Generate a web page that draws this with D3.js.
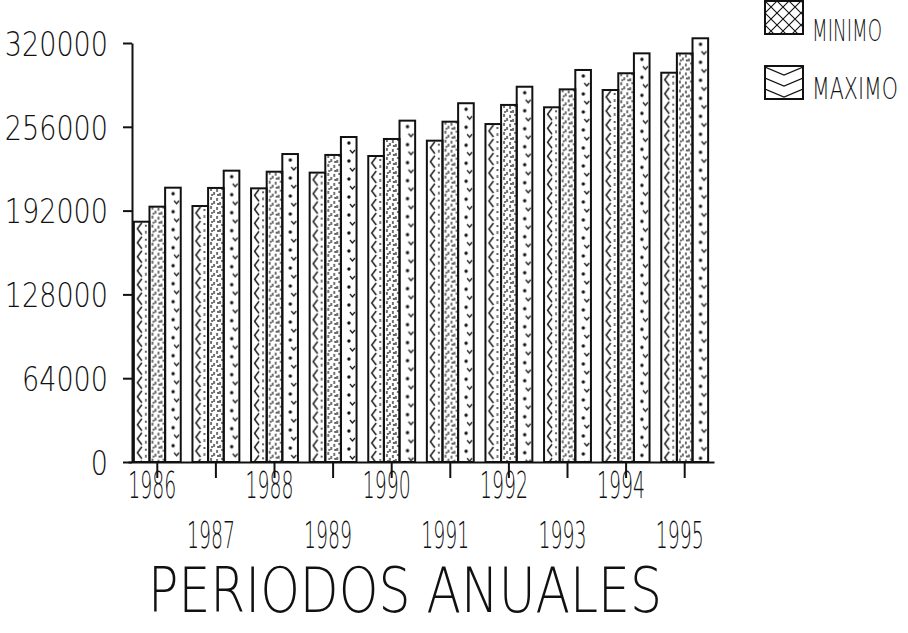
<!DOCTYPE html>
<html>
<head>
<meta charset="utf-8">
<script src="https://cdn.jsdelivr.net/npm/d3@7/dist/d3.min.js"></script>
<style>
  html, body { margin: 0; padding: 0; background: #fff; }
  svg { display: block; }
  text { font-family: 'DejaVu Sans', sans-serif; font-weight: 200; fill: #111; }
</style>
</head>
<body>
<svg id="chart" width="908" height="633"></svg>
<script>
// ---- data ----
const years   = ["1986","1987","1988","1989","1990","1991","1992","1993","1994","1995"];
const minimo  = [183500, 195500, 209000, 221000, 233700, 245400, 258100, 270900, 284100, 297300];
const medio   = [195000, 209300, 221700, 234500, 246700, 259900, 272700, 284600, 296900, 312000];
const maximo  = [209500, 222500, 235200, 248200, 260700, 274000, 286600, 299400, 312100, 323600];
const seriesNames = ["MINIMO", "MEDIO", "MAXIMO"];
const legendNames = ["MINIMO", "MAXIMO"];
const yTicks  = [0, 64000, 128000, 192000, 256000, 320000];
const xTitle  = "PERIODOS  ANUALES";

const svg = d3.select("#chart");
const defs = svg.append("defs");

// ---- patterns ----
const pZig = defs.append("pattern").attr("id","pZig").attr("patternUnits","userSpaceOnUse")
  .attr("width",16).attr("height",14);
pZig.append("path").attr("d","M8,1 L3.5,7 L8,13").attr("fill","none").attr("stroke","#111").attr("stroke-width",1.4);
pZig.append("circle").attr("cx",12).attr("cy",4).attr("r",0.9).attr("fill","#111");
pZig.append("path").attr("d","M12,9 L12,12").attr("stroke","#111").attr("stroke-width",1.1);

const pDot = defs.append("pattern").attr("id","pDot").attr("patternUnits","userSpaceOnUse")
  .attr("width",16).attr("height",9);
[[3,0,3],[6,4,7],[9,1,4],[12,5,8],[14,0,2],[4,6,8]].forEach(([x,a,b]) =>
  pDot.append("path").attr("d",`M${x},${a} L${x},${b}`).attr("stroke","#111").attr("stroke-width",1.2));
pDot.append("circle").attr("cx",10).attr("cy",7).attr("r",0.9).attr("fill","#111");

const pV = defs.append("pattern").attr("id","pV").attr("patternUnits","userSpaceOnUse")
  .attr("width",16).attr("height",36);
pV.append("circle").attr("cx",8).attr("cy",6).attr("r",1.7).attr("fill","#111");
pV.append("circle").attr("cx",8).attr("cy",24).attr("r",1.7).attr("fill","#111");
pV.append("path").attr("d","M9,13 L11.5,16 L14,13").attr("fill","none").attr("stroke","#111").attr("stroke-width",1.2);
pV.append("path").attr("d","M9,31 L11.5,34 L14,31").attr("fill","none").attr("stroke","#111").attr("stroke-width",1.2);

const pCross = defs.append("pattern").attr("id","pCross").attr("patternUnits","userSpaceOnUse")
  .attr("width",12).attr("height",12);
pCross.append("path").attr("d","M0,0 L12,12 M12,0 L0,12").attr("stroke","#111").attr("stroke-width",1.1);

const pChev = defs.append("pattern").attr("id","pChev").attr("patternUnits","userSpaceOnUse")
  .attr("width",38).attr("height",11);
pChev.append("path").attr("d","M0,1 L19,9 L38,1").attr("fill","none").attr("stroke","#111").attr("stroke-width",1.2);

const barFills = ["url(#pZig)","url(#pDot)","url(#pV)"];
const legendFills = ["url(#pCross)","url(#pChev)"];

// ---- scales ----
const x = d3.scaleBand().domain(years).range([128, 714]).paddingInner(0.2).paddingOuter(0.1);
const xs = d3.scaleBand().domain(seriesNames).range([0, x.bandwidth()]);
const y = d3.scaleLinear().domain([0, 320000]).range([462, 43]);

const table = years.map((yr, i) => ({ year: yr, vals: [minimo[i], medio[i], maximo[i]] }));

// ---- bars ----
const groups = svg.append("g").selectAll("g").data(table).join("g")
  .attr("transform", d => `translate(${x(d.year)},0)`);
groups.each(function(d) {
  const g = d3.select(this);
  d.vals.forEach((v, k) => {
    const bx = xs(seriesNames[k]);
    const bg = g.append("g").attr("transform", `translate(${bx},${y(v)})`);
    bg.append("rect").attr("x",0).attr("y",0)
      .attr("width", xs.bandwidth()).attr("height", y(0) - y(v))
      .attr("fill", barFills[k]).attr("stroke","#111").attr("stroke-width",2);
  });
});

// ---- y axis ----
const yAxis = svg.append("g").attr("transform","translate(132,0)")
  .call(d3.axisLeft(y).tickValues(yTicks).tickSize(9).tickSizeOuter(0).tickPadding(15).tickFormat(d => String(d)));
yAxis.selectAll("path, line").attr("stroke","#111").attr("stroke-width",2);
yAxis.selectAll("text")
  .attr("fill","#111")
  .attr("font-size", 34).attr("dy", "0.36em")
  .attr("textLength", d => String(d).length * 17.2).attr("lengthAdjust","spacingAndGlyphs")
  .style("font-family","'DejaVu Sans', sans-serif").style("font-weight",200);

// ---- x axis ----
const xAxis = svg.append("g").attr("transform","translate(0,462)")
  .call(d3.axisBottom(x).tickSize(16).tickSizeOuter(0).tickPadding(0));
xAxis.selectAll("path, line").attr("stroke","#111").attr("stroke-width",2);
xAxis.selectAll("text")
  .attr("fill","#111")
  .attr("font-size", 37).attr("dy", 0)
  .attr("x", -5)
  .attr("y", (d, i) => i % 2 === 0 ? 36 : 86)
  .attr("textLength", 48).attr("lengthAdjust","spacingAndGlyphs")
  .style("font-family","'DejaVu Sans', sans-serif").style("font-weight",200);

// ---- x title ----
svg.append("text").attr("x",148).attr("y",612)
  .attr("font-size",62).attr("textLength",514).attr("lengthAdjust","spacingAndGlyphs")
  .style("font-weight",200).text(xTitle);

// ---- legend ----
const leg = svg.append("g");
legendNames.forEach((name, i) => {
  const gy = i === 0 ? 1 : 66;
  const g = leg.append("g").attr("transform", `translate(765,${gy})`);
  g.append("rect").attr("width",38).attr("height",33)
    .attr("fill", legendFills[i]).attr("stroke","#111").attr("stroke-width",2);
  const target = i === 0 ? 70 : 86;
  const t = leg.append("text").attr("x",0).attr("y",0)
    .attr("font-size",31).style("font-weight",200).text(name);
  const natural = t.node().getComputedTextLength() || target;
  t.attr("transform", `translate(812,${gy + (i === 0 ? 40 : 33)}) scale(${target / natural},1)`);
});
</script>
</body>
</html>
